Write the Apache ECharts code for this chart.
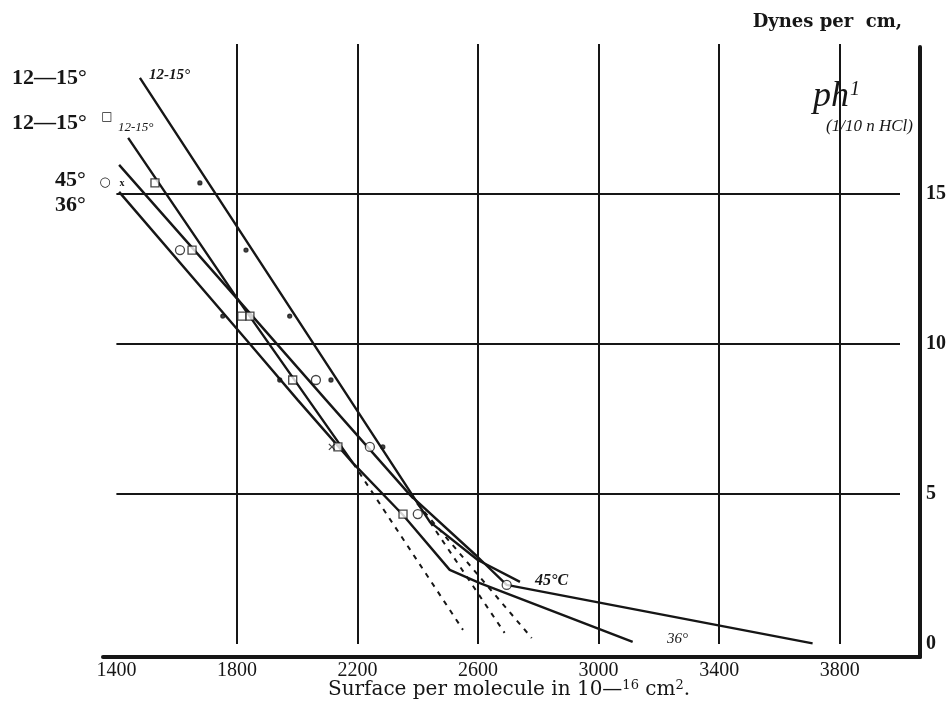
<!DOCTYPE html>
<html><head><meta charset="utf-8">
<script src="https://cdn.jsdelivr.net/npm/echarts@6/dist/echarts.min.js"></script>
<style>html,body{margin:0;padding:0;background:#fff}#c{width:952px;height:713px}</style>
</head><body><div id="c"></div>
<script>
// ---- data (x: surface per molecule, 10^-16 cm^2 ; y: dynes per cm) ----
const xTicks = [1400, 1800, 2200, 2600, 3000, 3400, 3800];
const yTicks = [0, 5, 10, 15];

// 12-15° (upper line, dots)
const lineA = [[1478, 18.87], [2440, 4.07], [2599, 2.8], [2739, 2.07]];
const lineAExtrap = [[2440, 4.07], [2688, 0.37]];
// 12-15° (squares)
const lineB = [[1439, 16.87], [1804, 11.47], [2185, 6.03]];
const lineBExtrap = [[2185, 6.03], [2550, 0.47]];
// 45°
const line45 = [[1409, 15.97], [1804, 11.47], [2096, 8.13], [2374, 4.97], [2599, 2.9], [2695, 1.97], [3710, 0.02]];
const line45Extrap = [[2374, 4.97], [2778, 0.2]];
// 36°
const line36 = [[1409, 15.07], [1843, 10.0], [2002, 8.13], [2185, 6.03], [2351, 4.3], [2506, 2.47], [2606, 2.03], [3113, 0.07]];

// observed points
const dotPts = [[1677, 15.37], [1830, 13.13], [1975, 10.93], [2112, 8.8], [2284, 6.57], [1753, 10.93], [1942, 8.8]];
const squarePts = [[1528, 15.37], [1651, 13.13], [1843, 10.93], [1816, 10.93], [1985, 8.8], [2135, 6.57], [2351, 4.33]];
const circlePts = [[1611, 13.13], [2062, 8.8], [2241, 6.57], [2400, 4.33], [2695, 1.97]];
const crossPts = [[2115, 6.57]];

const INK = '#161616';
const SERIF = '"Liberation Serif", "DejaVu Serif", serif';
const WIDE = '"DejaVu Serif", "Liberation Serif", serif';

function solid(data) {
  return { type: 'line', data, xAxisIndex: 0, yAxisIndex: 0, symbol: 'none', smooth: false,
    clip: false, lineStyle: { color: INK, width: 2.4 }, z: 3 };
}
function dashed(data) {
  return { type: 'line', data, xAxisIndex: 0, yAxisIndex: 0, symbol: 'none', clip: false,
    lineStyle: { color: INK, width: 2, type: [5, 6] }, z: 3 };
}
function pts(data, symbol, size, filled) {
  return { type: 'scatter', data, xAxisIndex: 0, yAxisIndex: 0, symbol, symbolSize: size, clip: false,
    itemStyle: { color: filled ? INK : '#fff', borderColor: INK, borderWidth: 1.3 }, z: 4 };
}

const chart = echarts.init(document.getElementById('c'), null, { renderer: 'canvas' });
chart.setOption({
  backgroundColor: '#fff',
  animation: false,
  grid: [
    { left: 116.4, right: 52, top: 44, bottom: 69 },
    { left: 103, right: 32, top: 47, bottom: 56 }
  ],
  xAxis: [
    { gridIndex: 0, type: 'value', min: 1400, max: 4000, interval: 400,
      axisLine: { show: false }, axisTick: { show: false },
      splitLine: { show: true, showMinLine: false, showMaxLine: false, lineStyle: { color: INK, width: 2 } },
      axisLabel: { margin: 17, fontSize: 20, fontFamily: SERIF, color: INK,
        formatter: v => xTicks.includes(v) ? String(v) : '' } },
    { gridIndex: 1, type: 'value', min: 0, max: 1, axisLine: { show: true, lineStyle: { color: INK, width: 4 } },
      axisTick: { show: false }, axisLabel: { show: false }, splitLine: { show: false } }
  ],
  yAxis: [
    { gridIndex: 0, type: 'value', min: 0, max: 20, interval: 5, position: 'right', offset: 20,
      axisLine: { show: false }, axisTick: { show: false },
      splitLine: { show: true, showMinLine: false, showMaxLine: false, lineStyle: { color: INK, width: 2 } },
      axisLabel: { margin: 6, fontSize: 20, fontWeight: 'bold', fontFamily: SERIF, color: INK, align: 'left',
        formatter: v => yTicks.includes(v) ? String(v) : '' } },
    { gridIndex: 1, type: 'value', min: 0, max: 1, position: 'right',
      axisLine: { show: true, onZero: false, lineStyle: { color: INK, width: 4 } },
      axisTick: { show: false }, axisLabel: { show: false }, splitLine: { show: false } }
  ],
  series: [
    solid(lineA), dashed(lineAExtrap),
    solid(lineB), dashed(lineBExtrap),
    solid(line45), dashed(line45Extrap),
    solid(line36),
    pts(dotPts, 'circle', 4, true),
    pts(squarePts, 'rect', 8, false),
    pts(circlePts, 'circle', 9, false),
    pts(crossPts, 'path://M0,0L10,10M10,0L0,10', 6, false)
  ],
  graphic: [
    { type: 'text', x: 902, y: 22, style: { text: 'Dynes per  cm,', font: 'bold 18px ' + WIDE, fill: INK, align: 'right', verticalAlign: 'middle' } },
    { type: 'text', x: 509, y: 690, style: {
        text: '{a|Surface per molecule in 10—}{s|16}{a| cm}{s|2}{a|.}', align: 'center', verticalAlign: 'middle',
        rich: { a: { font: '20px ' + WIDE, fill: INK }, s: { font: '13px ' + WIDE, fill: INK, padding: [0, 0, 9, 0] } } } },
    { type: 'text', x: 12, y: 78, style: { text: '12—15°', font: 'bold 22px ' + SERIF, fill: INK, verticalAlign: 'middle' } },
    { type: 'text', x: 12, y: 123, style: { text: '12—15°', font: 'bold 22px ' + SERIF, fill: INK, verticalAlign: 'middle' } },
    { type: 'text', x: 55, y: 180, style: { text: '45°', font: 'bold 22px ' + SERIF, fill: INK, verticalAlign: 'middle' } },
    { type: 'text', x: 55, y: 205, style: { text: '36°', font: 'bold 22px ' + SERIF, fill: INK, verticalAlign: 'middle' } },
    { type: 'text', x: 107, y: 117, style: { text: '□', font: '12px "DejaVu Sans"', fill: INK, align: 'center', verticalAlign: 'middle' } },
    { type: 'text', x: 105, y: 183, style: { text: '○', font: '13px "DejaVu Sans"', fill: INK, align: 'center', verticalAlign: 'middle' } },
    { type: 'text', x: 122, y: 183, style: { text: 'x', font: 'bold 10px ' + SERIF, fill: INK, align: 'center', verticalAlign: 'middle' } },
    { type: 'text', x: 149, y: 75, style: { text: '12-15°', font: 'italic bold 15px ' + SERIF, fill: INK, verticalAlign: 'middle' } },
    { type: 'text', x: 118, y: 128, style: { text: '12-15°', font: 'italic 13px ' + SERIF, fill: INK, verticalAlign: 'middle' } },
    { type: 'text', x: 535, y: 581, style: { text: '45°C', font: 'italic bold 16px ' + SERIF, fill: INK, verticalAlign: 'middle' } },
    { type: 'text', x: 667, y: 639, style: { text: '36°', font: 'italic 15px ' + SERIF, fill: INK, verticalAlign: 'middle' } },
    { type: 'text', x: 813, y: 97, style: { text: 'ph', font: 'italic 36px ' + SERIF, fill: INK, verticalAlign: 'middle' } },
    { type: 'text', x: 850, y: 90, style: { text: '1', font: 'italic 20px ' + SERIF, fill: INK, verticalAlign: 'middle' } },
    { type: 'text', x: 826, y: 127, style: { text: '(1/10 n HCl)', font: 'italic 17px ' + SERIF, fill: INK, verticalAlign: 'middle' } }
  ]
});
</script>
</body></html>
